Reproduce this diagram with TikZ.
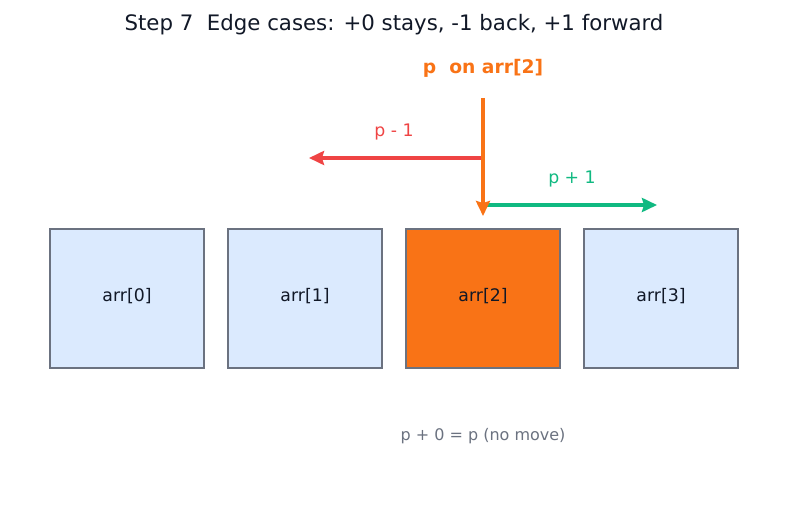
\documentclass[tikz,border=0pt]{standalone}
\usepackage{fontspec}
\setmainfont{DejaVu Sans}
\usetikzlibrary{arrows.meta}
\definecolor{cellfill}{HTML}{DBEAFE}
\definecolor{cellline}{HTML}{6B7280}
\definecolor{hot}{HTML}{F97316}
\definecolor{back}{HTML}{EF4444}
\definecolor{fwd}{HTML}{10B981}
\definecolor{ink}{HTML}{111827}
\definecolor{muted}{HTML}{6B7280}
\tikzset{
  cell/.style={draw=cellline, line width=2pt, fill=cellfill, minimum width=154pt, minimum height=139pt, inner sep=0pt, text=ink},
  hotcell/.style={cell, fill=hot},
  mover/.style={line width=3.5pt, -{Stealth[length=15pt,width=14pt,inset=2pt]}},
  lbl/.style={inner sep=0pt, font=\fontsize{17.3}{20}\selectfont}
}
\begin{document}
\begin{tikzpicture}[x=1pt,y=-1pt]
\useasboundingbox (0,0) rectangle (787,508);
\node[inner sep=0pt, text=ink, font=\fontsize{21.3}{25}\selectfont] (title) at (394,24.5) {Step 7\ \ Edge cases: +0 stays, -1 back, +1 forward};
\node[cell] (a0) at (127,298.5) {};
\node[cell] (a1) at (305,298.5) {};
\node[hotcell] (a2) at (483,298.5) {};
\node[cell] (a3) at (661,298.5) {};
\node[lbl, text=ink] (t0) at (127,296) {arr[0]};
\node[lbl, text=ink] (t1) at (305,296) {arr[1]};
\node[lbl, text=ink] (t2) at (483,296) {arr[2]};
\node[lbl, text=ink] (t3) at (661,296) {arr[3]};
\node[lbl, text=hot, font=\fontsize{18.7}{22}\selectfont\bfseries] (plbl) at (483,68.5) {p\ \ on arr[2]};
\node[lbl, text=back] (mlbl) at (394,131.5) {p - 1};
\node[lbl, text=fwd] (flbl) at (572,178.5) {p + 1};
\node[lbl, text=muted, font=\fontsize{16}{19}\selectfont] (note) at (483,436.5) {p + 0 = p (no move)};
\coordinate (ptop) at (483,98);
\coordinate (ptip) at (483,216);
\coordinate (mstart) at (481,158);
\coordinate (mend) at (309,158);
\coordinate (fstart) at (484,205);
\coordinate (fend) at (657,205);
\draw[mover, draw=back] (mstart) -- (mend);
\draw[mover, draw=fwd] (fstart) -- (fend);
\draw[mover, draw=hot] (ptop) -- (ptip);
\end{tikzpicture}
\end{document}
